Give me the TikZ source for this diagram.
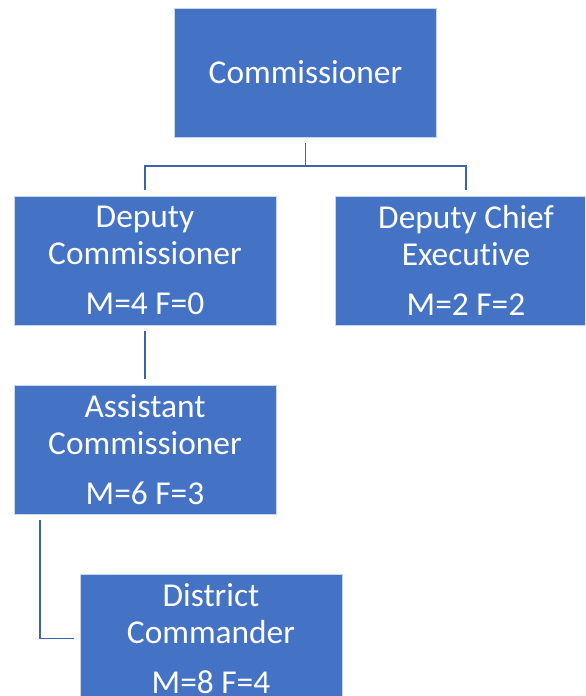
\documentclass[tikz,border=0pt]{standalone}
\usepackage{fontspec}
\setmainfont{Carlito}[Ligatures=NoCommon]
\usetikzlibrary{positioning,calc}
\definecolor{boxblue}{RGB}{68,114,196}
\definecolor{lineblue}{RGB}{61,99,174}

\begin{document}
\begin{tikzpicture}[x=0.02cm,y=-0.02cm,
  post/.style={rectangle,draw=white!70!boxblue,line width=0.3pt,fill=boxblue,text=white,minimum width=5.24cm,minimum height=2.58cm,align=center,inner sep=0pt,font=\fontsize{19pt}{21pt}\selectfont},
  link/.style={draw=lineblue,line width=1.1pt,shorten <=3\pgflinewidth,shorten >=3\pgflinewidth}]
\clip (0,0) rectangle (585,696);
\node[post] (com) at (305.5,72.5) {Commissioner};
\node[post] (dcom) at (145,260.5) {Deputy\\Commissioner\\[7.4pt]M=4 F=0};
\node[post] (dce) at (466,260.5) {Deputy Chief\\Executive\\[7.4pt]M=2 F=2};
\node[post] (acom) at (145,449.5) {Assistant\\Commissioner\\[7.4pt]M=6 F=3};
\node[post] (dist) at (211,638.5) {District\\Commander\\[7.4pt]M=8 F=4};
\draw[link] (com.south) -- ++(0,29) -| (dcom.north);
\draw[link] (com.south) -- ++(0,29) -| (dce.north);
\draw[link] (dcom.south) -- (acom.north);
\draw[link] ($(acom.south west)+(26,0)$) |- (dist.west);
\end{tikzpicture}
\end{document}
